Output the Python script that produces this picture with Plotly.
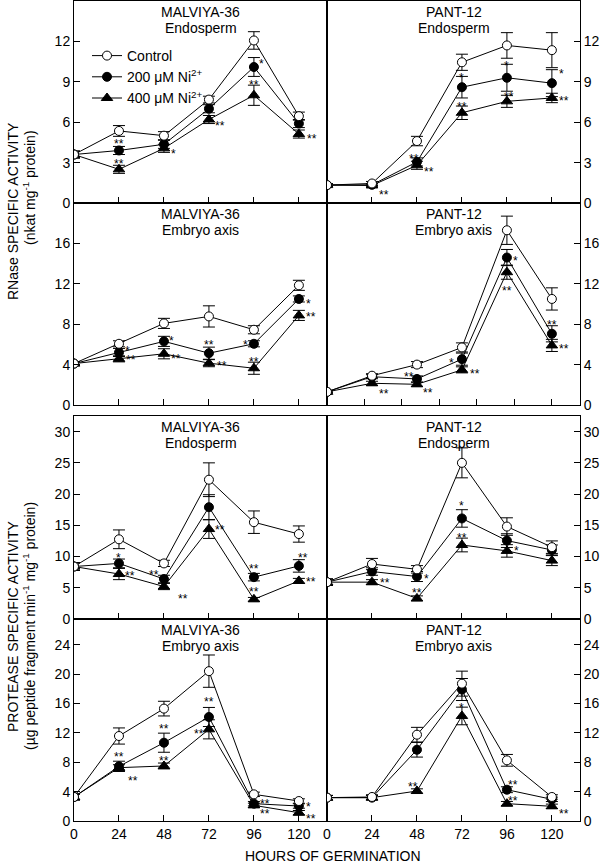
import plotly.graph_objects as go

# ---------------- data ----------------
hours = [0, 24, 48, 72, 96, 120]
series_names = ["Control", "200 μM Ni<sup>2+</sup>", "400 μM Ni<sup>2+</sup>"]

# RNase - MALVIYA-36 endosperm
rn_mal_endo_ctrl = [3.6, 5.35, 5.0, 7.68, 12.07, 6.45]
rn_mal_endo_200 = [3.6, 3.9, 4.36, 7.0, 10.1, 5.9]
rn_mal_endo_400 = [3.6, 2.5, 4.06, 6.2, 8.0, 5.12]
rn_mal_endo_ctrl_err = [0.25, 0.4, 0.3, 0.25, 0.65, 0.3]
rn_mal_endo_200_err = [0.25, 0.3, 0.3, 0.3, 0.7, 0.3]
rn_mal_endo_400_err = [0.25, 0.3, 0.3, 0.3, 0.75, 0.3]

# RNase - PANT-12 endosperm
rn_pan_endo_ctrl = [1.33, 1.45, 4.6, 10.45, 11.7, 11.35]
rn_pan_endo_200 = [1.33, 1.35, 3.05, 8.6, 9.3, 8.9]
rn_pan_endo_400 = [1.33, 1.3, 2.8, 6.7, 7.55, 7.8]
rn_pan_endo_ctrl_err = [0.1, 0.15, 0.35, 0.6, 0.95, 1.3]
rn_pan_endo_200_err = [0.1, 0.1, 0.3, 0.8, 1.0, 1.0]
rn_pan_endo_400_err = [0.1, 0.1, 0.3, 0.5, 0.45, 0.35]

# RNase - MALVIYA-36 embryo axis
rn_mal_emb_ctrl = [4.1, 6.06, 8.08, 8.77, 7.45, 11.85]
rn_mal_emb_200 = [4.1, 5.2, 6.3, 5.13, 6.06, 10.5]
rn_mal_emb_400 = [4.1, 4.57, 5.07, 4.14, 3.64, 8.87]
rn_mal_emb_ctrl_err = [0.2, 0.3, 0.5, 1.05, 0.4, 0.5]
rn_mal_emb_200_err = [0.2, 0.4, 0.5, 0.6, 0.3, 0.3]
rn_mal_emb_400_err = [0.2, 0.3, 0.5, 0.35, 0.6, 0.5]

# RNase - PANT-12 embryo axis
rn_pan_emb_ctrl = [1.3, 2.9, 4.0, 5.7, 17.3, 10.5]
rn_pan_emb_200 = [1.3, 2.8, 2.58, 4.54, 14.6, 7.05]
rn_pan_emb_400 = [1.3, 2.15, 2.05, 3.48, 13.15, 5.9]
rn_pan_emb_ctrl_err = [0.1, 0.2, 0.3, 0.45, 1.4, 1.1]
rn_pan_emb_200_err = [0.1, 0.2, 0.3, 0.6, 0.8, 0.8]
rn_pan_emb_400_err = [0.1, 0.2, 0.2, 0.3, 0.7, 0.6]

# Protease - MALVIYA-36 endosperm
pr_mal_endo_ctrl = [8.4, 12.76, 8.9, 22.3, 15.5, 13.6]
pr_mal_endo_200 = [8.4, 8.9, 6.4, 17.9, 6.7, 8.5]
pr_mal_endo_400 = [8.4, 7.2, 5.2, 14.4, 3.15, 6.1]
pr_mal_endo_ctrl_err = [0.6, 1.5, 0.5, 2.7, 1.8, 1.3]
pr_mal_endo_200_err = [0.6, 0.7, 0.6, 2.0, 0.6, 1.0]
pr_mal_endo_400_err = [0.6, 0.9, 0.5, 1.5, 0.3, 0.4]

# Protease - PANT-12 endosperm
pr_pan_endo_ctrl = [5.9, 8.8, 7.95, 25.0, 14.8, 11.5]
pr_pan_endo_200 = [5.9, 7.6, 6.8, 16.1, 12.55, 11.05]
pr_pan_endo_400 = [5.9, 5.9, 3.3, 11.85, 10.9, 9.35]
pr_pan_endo_ctrl_err = [0.5, 0.9, 0.6, 2.4, 1.4, 1.0]
pr_pan_endo_200_err = [0.5, 0.6, 0.8, 1.4, 1.1, 0.8]
pr_pan_endo_400_err = [0.5, 0.4, 0.4, 1.1, 1.0, 0.8]

# Protease - MALVIYA-36 embryo axis
pr_mal_emb_ctrl = [3.27, 11.57, 15.3, 20.4, 3.63, 2.72]
pr_mal_emb_200 = [3.27, 7.44, 10.66, 14.16, 2.36, 2.04]
pr_mal_emb_400 = [3.27, 7.26, 7.49, 12.48, 2.13, 1.13]
pr_mal_emb_ctrl_err = [0.4, 1.1, 1.0, 2.2, 0.3, 0.3]
pr_mal_emb_200_err = [0.4, 0.7, 1.3, 1.3, 0.3, 0.3]
pr_mal_emb_400_err = [0.4, 0.4, 0.4, 1.3, 0.3, 0.3]

# Protease - PANT-12 embryo axis
pr_pan_emb_ctrl = [3.18, 3.27, 11.75, 18.7, 8.26, 3.27]
pr_pan_emb_200 = [3.18, 3.18, 9.7, 17.9, 4.26, 2.95]
pr_pan_emb_400 = [3.18, 3.18, 4.08, 14.3, 2.36, 2.0]
pr_pan_emb_ctrl_err = [0.3, 0.3, 1.0, 1.7, 0.8, 0.3]
pr_pan_emb_200_err = [0.3, 0.3, 1.0, 1.5, 0.4, 0.3]
pr_pan_emb_400_err = [0.3, 0.3, 0.3, 1.2, 0.3, 0.3]

# y tick values per row
rnase_endo_ticks = [0, 3, 6, 9, 12]
rnase_emb_ticks = [0, 4, 8, 12, 16]
prot_endo_ticks = [0, 5, 10, 15, 20, 25, 30]
prot_emb_ticks = [0, 4, 8, 12, 16, 20, 24]
hour_ticks = [0, 24, 48, 72, 96, 120]
hour_ticks_alt = [20, 40, 60, 80, 100, 120]

# significance marks: (series index 1=200,2=400, point index, text, dx px, dy px)
sig_rn_mal_endo = [(1, 1, "**", 0, 9), (2, 1, "**", 0, 8), (2, 2, "*", 10, -3), (2, 3, "**", 11, -3),
                   (1, 4, "*", 8, 6), (2, 4, "**", 0, 13), (2, 5, "**", 13, -2)]
sig_rn_pan_endo = [(2, 1, "**", 12, -7), (1, 2, "**", -3, 6), (2, 2, "**", 12, -4), (1, 3, "*", 0, 12),
                   (2, 3, "**", 0, 9), (1, 4, "*", 0, 15), (2, 4, "**", 2, 7), (1, 5, "*", 10, 12),
                   (2, 5, "**", 12, 0)]
sig_rn_mal_emb = [(1, 1, "*", 9, 4), (2, 1, "**", 12, 2), (1, 2, "*", 8, 3), (2, 2, "**", 12, -2),
                  (1, 3, "**", 0, 11), (2, 3, "**", 13, 0), (1, 4, "*", -8, 2), (2, 4, "**", 0, 9),
                  (1, 5, "*", 10, -2), (2, 5, "**", 12, 1)]
sig_rn_pan_emb = [(2, 1, "**", 12, -8), (1, 2, "**", -8, 5), (2, 2, "**", 11, -6), (1, 3, "*", -10, -1),
                  (2, 3, "**", 13, -1), (1, 4, "*", 9, 0), (2, 4, "**", 0, -16), (1, 5, "**", 0, 12),
                  (2, 5, "**", 12, -1)]
sig_pr_mal_endo = [(1, 1, "*", 0, 8), (2, 1, "**", 11, 1), (1, 2, "**", -10, 7), (2, 2, "**", 19, -9),
                   (2, 3, "**", 11, 2), (1, 4, "**", 0, 11), (2, 4, "**", 0, 10), (1, 5, "**", 4, 11),
                   (2, 5, "**", 12, 2)]
sig_pr_pan_endo = [(2, 1, "**", 13, 2), (1, 2, "*", 10, 1), (2, 2, "**", 0, 8), (1, 3, "*", 0, 15),
                   (2, 3, "**", 0, 10), (2, 4, "*", 10, 3)]
sig_pr_mal_emb = [(1, 1, "**", 0, 12), (2, 1, "**", 14, -10), (1, 2, "**", 0, 17), (2, 2, "**", 0, 8),
                  (1, 3, "**", 0, 18), (2, 3, "**", -10, -2), (1, 4, "**", 11, 3), (2, 4, "**", 11, -6),
                  (1, 5, "*", 10, 2), (2, 5, "**", 12, -3)]
sig_pr_pan_emb = [(2, 2, "**", -4, 7), (2, 3, "*", 0, 11), (1, 4, "**", 6, 8), (2, 4, "**", 6, 6),
                  (2, 5, "**", 12, -5)]

panels = [
    # (row, col, ctrl, s200, s400, errs, ymax, yticks, xticks, title1, title2, sig)
    (0, 0, rn_mal_endo_ctrl, rn_mal_endo_200, rn_mal_endo_400,
     (rn_mal_endo_ctrl_err, rn_mal_endo_200_err, rn_mal_endo_400_err), 15, rnase_endo_ticks, hour_ticks,
     "MALVIYA-36", "Endosperm", sig_rn_mal_endo),
    (0, 1, rn_pan_endo_ctrl, rn_pan_endo_200, rn_pan_endo_400,
     (rn_pan_endo_ctrl_err, rn_pan_endo_200_err, rn_pan_endo_400_err), 15, rnase_endo_ticks, hour_ticks,
     "PANT-12", "Endosperm", sig_rn_pan_endo),
    (1, 0, rn_mal_emb_ctrl, rn_mal_emb_200, rn_mal_emb_400,
     (rn_mal_emb_ctrl_err, rn_mal_emb_200_err, rn_mal_emb_400_err), 20, rnase_emb_ticks, hour_ticks,
     "MALVIYA-36", "Embryo axis", sig_rn_mal_emb),
    (1, 1, rn_pan_emb_ctrl, rn_pan_emb_200, rn_pan_emb_400,
     (rn_pan_emb_ctrl_err, rn_pan_emb_200_err, rn_pan_emb_400_err), 20, rnase_emb_ticks, hour_ticks_alt,
     "PANT-12", "Embryo axis", sig_rn_pan_emb),
    (2, 0, pr_mal_endo_ctrl, pr_mal_endo_200, pr_mal_endo_400,
     (pr_mal_endo_ctrl_err, pr_mal_endo_200_err, pr_mal_endo_400_err), 32.5, prot_endo_ticks, hour_ticks,
     "MALVIYA-36", "Endosperm", sig_pr_mal_endo),
    (2, 1, pr_pan_endo_ctrl, pr_pan_endo_200, pr_pan_endo_400,
     (pr_pan_endo_ctrl_err, pr_pan_endo_200_err, pr_pan_endo_400_err), 32.5, prot_endo_ticks, hour_ticks,
     "PANT-12", "Endosperm", sig_pr_pan_endo),
    (3, 0, pr_mal_emb_ctrl, pr_mal_emb_200, pr_mal_emb_400,
     (pr_mal_emb_ctrl_err, pr_mal_emb_200_err, pr_mal_emb_400_err), 27.5, prot_emb_ticks, hour_ticks,
     "MALVIYA-36", "Embryo axis", sig_pr_mal_emb),
    (3, 1, pr_pan_emb_ctrl, pr_pan_emb_200, pr_pan_emb_400,
     (pr_pan_emb_ctrl_err, pr_pan_emb_200_err, pr_pan_emb_400_err), 27.5, prot_emb_ticks, hour_ticks,
     "PANT-12", "Embryo axis", sig_pr_pan_emb),
]

# ---------------- layout geometry (pixels) ----------------
W, H = 605, 863
L, R = 74, 580
TOP, BOT = 1, 821
row_px = [(1, 203), (203, 405), (416, 619), (619, 821)]
col_px = [(74, 327), (327, 580)]
PW, PH = R - L, BOT - TOP

FONT = "Arial, Liberation Sans, sans-serif"

styles = [
    dict(symbol="circle", size=9, color="white", line=dict(color="black", width=1)),
    dict(symbol="circle", size=9, color="black", line=dict(color="black", width=1)),
    dict(symbol="triangle-up", size=10, color="black", line=dict(color="black", width=1)),
]

fig = go.Figure()
annotations = []
layout_axes = {}

for (r, c, ctrl, s200, s400, errs, ymax, yt, xt, t1, t2, sig) in panels:
    idx = r * 2 + c + 1
    xa = "x" if idx == 1 else f"x{idx}"
    ya = "y" if idx == 1 else f"y{idx}"
    vals = [ctrl, s200, s400]
    for k in [2, 1, 0]:
        fig.add_trace(go.Scatter(
            x=hours, y=vals[k], mode="lines+markers",
            line=dict(color="black", width=1),
            marker=styles[k],
            error_y=dict(type="data", array=errs[k], visible=True, color="black", thickness=1, width=6),
            name=series_names[k], legendrank=k + 1,
            showlegend=(idx == 1), xaxis=xa, yaxis=ya,
        ))
    y0p, y1p = row_px[r]
    x0p, x1p = col_px[c]
    xdom = [(x0p - L) / PW, (x1p - L) / PW]
    ydom = [(BOT - y1p) / PH, (BOT - y0p) / PH]
    xkey = "xaxis" if idx == 1 else f"xaxis{idx}"
    ykey = "yaxis" if idx == 1 else f"yaxis{idx}"
    layout_axes[xkey] = dict(
        domain=xdom, anchor=ya, range=[0, 135], tickvals=xt,
        showticklabels=(r == 3), ticks="inside", ticklen=6, tickcolor="black",
        showline=True, linecolor="black", linewidth=1, mirror=True,
        showgrid=False, zeroline=False,
        tickfont=dict(family=FONT, size=14, color="black"),
    )
    layout_axes[ykey] = dict(
        domain=ydom, anchor=xa, range=[0, ymax], tickvals=yt,
        side="left" if c == 0 else "right",
        ticks="inside", ticklen=6, tickcolor="black",
        showline=True, linecolor="black", linewidth=1, mirror=True,
        showgrid=False, zeroline=False,
        tickfont=dict(family=FONT, size=14, color="black"),
    )
    # panel titles
    for txt, off in [(t1, 11), (t2, 27)]:
        annotations.append(dict(
            text=txt, xref=f"{xa} domain", yref=f"{ya} domain", x=0.5, y=1,
            yshift=-off, showarrow=False, xanchor="center", yanchor="middle",
            font=dict(family=FONT, size=14, color="black")))
    # significance marks
    for (s, p, txt, dx, dy) in sig:
        annotations.append(dict(
            text=txt, xref=xa, yref=ya, x=hours[p], y=vals[s][p],
            xshift=dx, yshift=dy - 3, showarrow=False,
            xanchor="center", yanchor="middle",
            font=dict(family=FONT, size=12, color="black")))


def px_x(px):
    return (px - L) / PW


def px_y(py):
    return (BOT - py) / PH


def title_ann(text, x, y, angle):
    return dict(text=text, xref="paper", yref="paper", x=px_x(x), y=px_y(y),
                xanchor="center", yanchor="middle", textangle=angle, showarrow=False,
                font=dict(family=FONT, size=14, color="black"))


# axis titles
annotations += [
    title_ann("RNase SPECIFIC ACTIVITY", 13, 211, -90),
    title_ann("(nkat mg<sup>-1</sup> protein)", 29, 188, -90),
    title_ann("PROTEASE SPECIFIC ACTIVITY", 13, 627, -90),
    title_ann("(µg peptide fragment min<sup>-1</sup> mg<sup>-1</sup> protein)", 29, 626, -90),
    title_ann("HOURS OF GERMINATION", 333, 856, 0),
]

fig.update_layout(
    width=W, height=H,
    margin=dict(l=L, r=W - R, t=TOP, b=H - BOT, pad=0),
    paper_bgcolor="white", plot_bgcolor="white",
    font=dict(family=FONT, size=14, color="black"),
    showlegend=True,
    legend=dict(x=px_x(87), y=px_y(40), xanchor="left", yanchor="top",
                bgcolor="rgba(0,0,0,0)", borderwidth=0, tracegroupgap=0,
                font=dict(family=FONT, size=14, color="black"), itemwidth=30),
    annotations=annotations,
    **layout_axes,
)

fig.write_html("out.html", config={"displayModeBar": False},
               post_script="document.body.style.margin='0px';")
